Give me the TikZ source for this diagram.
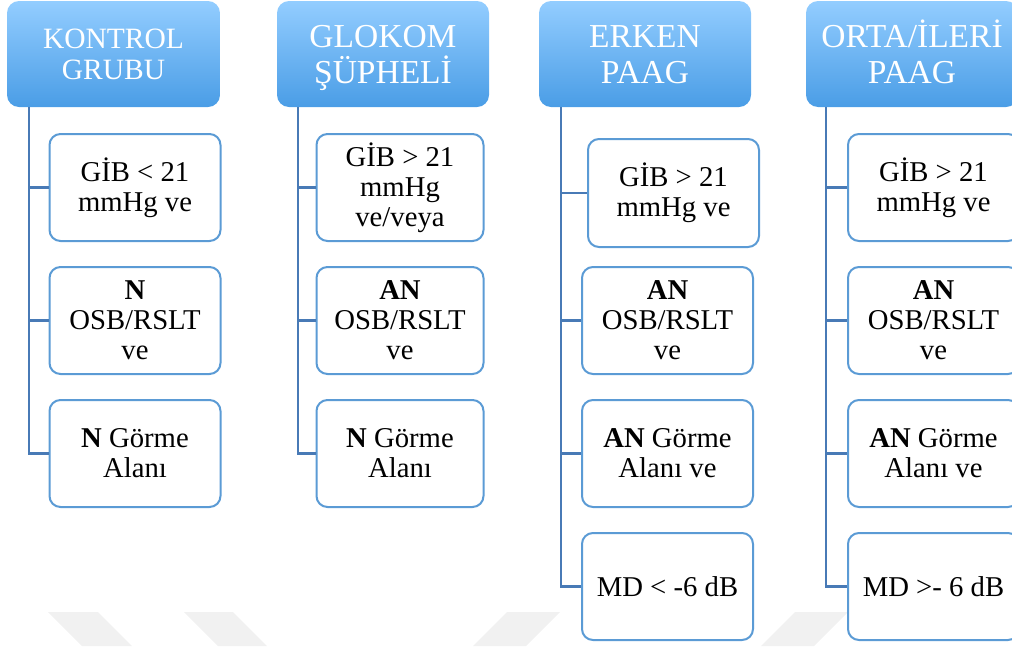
\documentclass[tikz,border=0pt]{standalone}
\usepackage{fontspec}
\setmainfont{Liberation Serif}
\definecolor{hdrtop}{RGB}{147,205,255}
\definecolor{hdrbot}{RGB}{74,157,230}
\definecolor{boxline}{RGB}{91,155,213}
\definecolor{connline}{RGB}{72,122,182}
\definecolor{wm}{RGB}{241,241,241}
\newcommand{\hstrA}[1]{\rule{0pt}{30pt}#1}
\newcommand{\hstrAb}[1]{#1\rule[-11pt]{0pt}{11pt}}
\newcommand{\hstrB}[1]{\rule{0pt}{32pt}#1}
\newcommand{\hstrBb}[1]{#1\rule[-10pt]{0pt}{10pt}}
\tikzset{
  hdr/.style={rectangle, rounded corners=12pt, top color=hdrtop, bottom color=hdrbot, draw=none, text=white, align=center, inner sep=0pt, minimum height=106pt},
  hdrA/.style={font=\fontsize{29.5}{31}\selectfont},
  hdrB/.style={font=\fontsize{33.5}{36}\selectfont},
  child/.style={rectangle, rounded corners=11pt, draw=boxline, line width=2pt, fill=white, align=center, font=\fontsize{28.7}{30}\selectfont, minimum width=171pt, minimum height=107pt, inner sep=0pt},
  conn/.style={draw=connline, line width=2.2pt},
  wmark/.style={fill=wm}
}
\begin{document}
\begin{tikzpicture}[x=1pt,y=-1pt]
\useasboundingbox (0,0) rectangle (1012,646);
% watermark
\fill[wmark] (48,612) -- (98,612) -- (132,646) -- (82,646) -- cycle;
\fill[wmark] (184,612) -- (233,612) -- (267,646) -- (218,646) -- cycle;
\fill[wmark] (507,612) -- (560,612) -- (526,646) -- (473,646) -- cycle;
\fill[wmark] (795,612) -- (848,612) -- (814,646) -- (761,646) -- cycle;
% headers
\node[hdr,hdrA,minimum width=213pt] (h1) at (113.5,54) {\hstrA{KONTROL}\\\hstrAb{GRUBU}};
\node[hdr,hdrB,minimum width=212pt] (h2) at (383,54) {\hstrB{GLOKOM}\\\hstrBb{ŞÜPHELİ}};
\node[hdr,hdrB,minimum width=212pt] (h3) at (645,54) {\hstrB{ERKEN}\\\hstrBb{PAAG}};
\node[hdr,hdrB,minimum width=212pt] (h4) at (912,54) {\hstrB{ORTA/İLERİ}\\\hstrBb{PAAG}};
\coordinate (s1) at ([xshift=22pt]h1.south west);
\coordinate (s2) at ([xshift=21pt]h2.south west);
\coordinate (s3) at ([xshift=22pt]h3.south west);
\coordinate (s4) at ([xshift=20pt]h4.south west);
% column 1
\node[child] (c11) at (135,187.5) {GİB < 21\\mmHg ve};
\node[child] (c12) at (135,320.5) {\textbf{N}\\OSB/RSLT\\ve};
\node[child] (c13) at (135,453.5) {\textbf{N} Görme\\Alanı};
% column 2
\node[child,minimum width=167pt] (c21) at (400,187.5) {GİB > 21\\mmHg\\ve/veya};
\node[child,minimum width=167pt] (c22) at (400,320.5) {\textbf{AN}\\OSB/RSLT\\ve};
\node[child,minimum width=167pt] (c23) at (400,453.5) {\textbf{N} Görme\\Alanı};
% column 3
\node[child,minimum height=108pt] (c31) at (673.5,193) {GİB > 21\\mmHg ve};
\node[child] (c32) at (667.5,320.5) {\textbf{AN}\\OSB/RSLT\\ve};
\node[child] (c33) at (667.5,453.5) {\textbf{AN} Görme\\Alanı ve};
\node[child] (c34) at (667.5,586.5) {MD < -6 dB};
% column 4
\node[child] (c41) at (933.5,187.5) {GİB > 21\\mmHg ve};
\node[child] (c42) at (933.5,320.5) {\textbf{AN}\\OSB/RSLT\\ve};
\node[child] (c43) at (933.5,453.5) {\textbf{AN} Görme\\Alanı ve};
\node[child] (c44) at (933.5,586.5) {MD >- 6 dB};
% connectors
\draw[conn] (s1) |- (c13.west);
\draw[conn] (s1) |- (c11.west);
\draw[conn] (s1) |- (c12.west);
\draw[conn] (s2) |- (c23.west);
\draw[conn] (s2) |- (c21.west);
\draw[conn] (s2) |- (c22.west);
\draw[conn] (s3) |- (c34.west);
\draw[conn] (s3) |- (c31.west);
\draw[conn] (s3) |- (c32.west);
\draw[conn] (s3) |- (c33.west);
\draw[conn] (s4) |- (c44.west);
\draw[conn] (s4) |- (c41.west);
\draw[conn] (s4) |- (c42.west);
\draw[conn] (s4) |- (c43.west);
\end{tikzpicture}
\end{document}
